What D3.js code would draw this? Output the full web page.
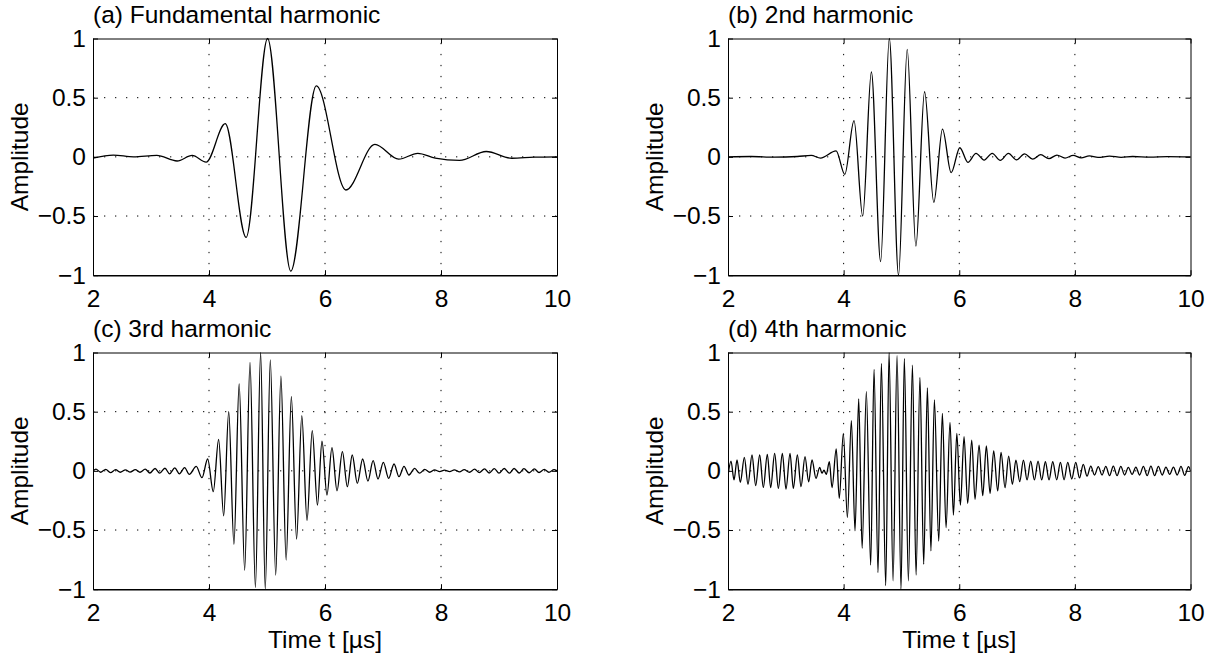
<!DOCTYPE html>
<html>
<head>
<meta charset="utf-8">
<script src="https://cdn.jsdelivr.net/npm/d3@7"></script>
<style>
  html, body { margin: 0; padding: 0; background: #fff; }
  svg text { font-family: "Liberation Sans", Arial, Helvetica, sans-serif; fill: #000; }
</style>
</head>
<body>
<svg id="fig" width="1208" height="659"></svg>
<script>
// Axis ticks and labels
const timeTicks = [2, 4, 6, 8, 10];
const timeLabels = ["2", "4", "6", "8", "10"];
const ampTicks = [-1, -0.5, 0, 0.5, 1];
const ampLabels = ["\u22121", "\u22120.5", "0", "0.5", "1"];
const panelTitles = ["(a) Fundamental harmonic", "(b) 2nd harmonic", "(c) 3rd harmonic", "(d) 4th harmonic"];
const xLabelText = "Time t [\u00b5s]";
const yLabelText = "Amplitude";

// Fundamental harmonic: turning points of the waveform (time in µs, normalised amplitude)
const fundT = [2.0, 2.35, 2.7, 3.1, 3.45, 3.71, 3.95, 4.28, 4.64, 5.01, 5.41, 5.85, 6.36, 6.86, 7.27, 7.6, 7.9, 8.32, 8.78, 9.22, 9.6, 10.0];
const fundA = [-0.01, 0.015, 0.0, 0.012, -0.035, 0.012, -0.045, 0.28, -0.68, 1.0, -0.965, 0.60, -0.28, 0.105, -0.02, 0.03, -0.01, -0.03, 0.045, -0.012, -0.003, 0.0];

// 2nd harmonic
const h2T = [2.0, 2.4, 2.8, 3.2, 3.44, 3.6, 3.87, 4.02, 4.18, 4.33, 4.48, 4.64, 4.79, 4.95, 5.10, 5.25, 5.40, 5.56, 5.71, 5.86,
             6.01, 6.15, 6.29, 6.43, 6.57, 6.71, 6.85, 6.99, 7.13, 7.27, 7.41, 7.55, 7.69, 7.83, 7.97, 8.11, 8.25, 8.4, 8.6, 8.8,
             9.0, 9.3, 9.6, 10.0];
const h2A = [0.0, 0.003, -0.002, 0.003, 0.012, -0.01, 0.05, -0.148, 0.306, -0.50, 0.717, -0.885, 1.0, -1.0, 0.908, -0.754, 0.55, -0.385, 0.235, -0.134,
             0.077, -0.046, 0.03, -0.027, 0.03, -0.03, 0.03, -0.025, 0.025, -0.02, 0.018, -0.015, 0.015, -0.01, 0.012, -0.008, 0.008, -0.005, 0.006, -0.004,
             0.003, -0.003, 0.002, 0.0];

// 3rd harmonic
const h3T = [2.0, 2.05, 2.13, 2.22, 2.30, 2.39, 2.47, 2.56, 2.64, 2.73, 2.81, 2.90, 2.98, 3.07, 3.15, 3.24, 3.32, 3.41, 3.49, 3.58,
             3.66, 3.78, 3.879, 3.977, 4.074, 4.166, 4.253, 4.34, 4.43, 4.52, 4.615, 4.707, 4.80, 4.89, 4.97, 5.057, 5.15, 5.24, 5.33, 5.42,
             5.51, 5.60, 5.69, 5.78, 5.87, 5.948, 6.034, 6.12, 6.207, 6.30, 6.385, 6.47, 6.557, 6.649, 6.74, 6.83, 6.914, 7.006, 7.098, 7.19,
             7.276, 7.362, 7.448, 7.546, 7.63, 7.72, 7.805, 7.89, 7.977, 8.06, 8.15, 8.23, 8.32, 8.40, 8.49, 8.58, 8.66, 8.75, 8.83, 8.92,
             9.0, 9.09, 9.18, 9.26, 9.35, 9.43, 9.52, 9.61, 9.69, 9.78, 9.86, 9.95, 10.0];
const h3A = [0.0, 0.015, -0.012, 0.012, -0.015, 0.01, -0.012, 0.008, -0.01, 0.01, -0.012, 0.015, -0.018, 0.02, -0.02, 0.022, -0.025, 0.025, -0.025, 0.028,
             -0.03, 0.037, -0.058, 0.10, -0.176, 0.266, -0.38, 0.50, -0.62, 0.734, -0.84, 0.917, -0.985, 1.0, -1.0, 0.937, -0.88, 0.80, -0.754, 0.627,
             -0.576, 0.466, -0.42, 0.34, -0.29, 0.25, -0.204, 0.196, -0.168, 0.162, -0.134, 0.134, -0.106, 0.10, -0.086, 0.086, -0.069, 0.072, -0.063, 0.058,
             -0.049, 0.038, -0.035, 0.021, -0.02, 0.012, -0.012, 0.008, -0.006, 0.006, -0.006, 0.008, -0.008, 0.01, -0.012, 0.014, -0.015, 0.017, -0.018, 0.018,
             -0.02, 0.02, -0.02, 0.02, -0.018, 0.018, -0.016, 0.016, -0.014, 0.012, -0.012, 0.01, 0.0];

// 4th harmonic
const h4T = [2.0, 2.052, 2.104, 2.156, 2.213, 2.283, 2.346, 2.415, 2.479, 2.548, 2.611, 2.68, 2.738, 2.807, 2.871, 2.94, 3.003, 3.073, 3.13, 3.2,
             3.263, 3.332, 3.395, 3.453, 3.522, 3.586, 3.625, 3.66, 3.70, 3.753, 3.80, 3.872, 3.925, 3.995, 4.065, 4.134, 4.197, 4.261, 4.32, 4.393,
             4.468, 4.526, 4.595, 4.653, 4.728, 4.786, 4.855, 4.924, 4.993, 5.05, 5.12, 5.19, 5.253, 5.32, 5.385, 5.449, 5.51, 5.57, 5.645, 5.708,
             5.772, 5.84, 5.899, 5.958, 6.02, 6.083, 6.146, 6.216, 6.273, 6.343, 6.406, 6.469, 6.533, 6.596, 6.665, 6.723, 6.792, 6.855, 6.919, 6.98,
             7.046, 7.11, 7.173, 7.236, 7.3, 7.363, 7.426, 7.49, 7.553, 7.617, 7.686, 7.75, 7.813, 7.877, 7.946, 8.015, 8.08, 8.145, 8.21, 8.275,
             8.34, 8.405, 8.47, 8.535, 8.60, 8.665, 8.73, 8.795, 8.86, 8.925, 8.99, 9.055, 9.12, 9.185, 9.25, 9.315, 9.38, 9.445, 9.51, 9.575,
             9.64, 9.705, 9.77, 9.835, 9.90, 9.965, 10.0];
const h4A = [-0.04, 0.083, -0.077, 0.092, -0.097, 0.114, -0.114, 0.134, -0.125, 0.134, -0.14, 0.14, -0.142, 0.148, -0.148, 0.148, -0.154, 0.148, -0.148, 0.134,
             -0.134, 0.12, -0.092, 0.092, -0.063, 0.03, -0.02, 0.005, -0.03, 0.077, -0.142, 0.185, -0.232, 0.317, -0.393, 0.425, -0.506, 0.607, -0.655, 0.669,
             -0.796, 0.858, -0.86, 0.908, -0.97, 1.0, -0.93, 0.973, -1.0, 0.95, -0.93, 0.894, -0.88, 0.79, -0.79, 0.70, -0.677, 0.60, -0.593, 0.486,
             -0.48, 0.41, -0.373, 0.317, -0.29, 0.29, -0.275, 0.26, -0.24, 0.218, -0.21, 0.21, -0.19, 0.168, -0.17, 0.156, -0.142, 0.125, -0.114, 0.09,
             -0.09, 0.09, -0.077, 0.083, -0.077, 0.083, -0.077, 0.077, -0.077, 0.077, -0.075, 0.072, -0.075, 0.072, -0.069, 0.072, -0.06, 0.055, -0.045, 0.04,
             -0.035, 0.035, -0.035, 0.038, -0.04, 0.04, -0.04, 0.038, -0.035, 0.03, -0.03, 0.032, -0.035, 0.038, -0.04, 0.04, -0.04, 0.038, -0.035, 0.032,
             -0.03, 0.032, -0.035, 0.038, -0.038, 0.035, 0.0];

const series = [[fundT, fundA], [h2T, h2A], [h3T, h3A], [h4T, h4A]];

// Subplot frames: two columns, two rows
const cols = [[93, 557], [728, 1190.5]];
const rows = [[38.5, 275.2], [352.5, 589.2]];
const fontSize = 24.5;

const svg = d3.select("#fig");
svg.append("rect").attr("width", 1208).attr("height", 659).attr("fill", "#fff");

series.forEach(([ts, as], i) => {
  const col = i % 2, row = Math.floor(i / 2);
  const [x0, x1] = cols[col];
  const [y0, y1] = rows[row];

  const x = d3.scaleLinear().domain([2, 10]).range([x0, x1]);
  const y = d3.scaleLinear().domain([-1, 1]).range([y1, y0]);

  const g = svg.append("g");

  // dotted grid at interior ticks
  const grid = g.append("g").attr("stroke", "#000").attr("stroke-width", 1)
    .attr("stroke-dasharray", "1.3 9.7").attr("fill", "none");
  timeTicks.filter(t => t > 2 && t < 10).forEach(t => {
    grid.append("line").attr("x1", x(t)).attr("x2", x(t)).attr("y1", y1).attr("y2", y0);
  });
  ampTicks.filter(a => a > -1 && a < 1).forEach(a => {
    grid.append("line").attr("x1", x0).attr("x2", x1).attr("y1", y(a)).attr("y2", y(a));
  });

  // waveform
  const clipId = "clip" + i;
  g.append("clipPath").attr("id", clipId).append("rect")
    .attr("x", x0).attr("y", y0 - 1).attr("width", x1 - x0).attr("height", y1 - y0 + 2);
  const pts = ts.map((t, k) => [t, as[k]]);
  const line = d3.line().x(d => x(d[0])).y(d => y(d[1])).curve(d3.curveMonotoneX);
  g.append("path").datum(pts)
    .attr("clip-path", `url(#${clipId})`)
    .attr("d", line)
    .attr("fill", "none").attr("stroke", "#000").attr("stroke-width", 1.3)
    .attr("stroke-linejoin", "round");

  // axes with inward ticks on all four sides
  const styleAxis = sel => {
    sel.selectAll("path.domain").attr("stroke", "#000");
    sel.selectAll(".tick line").attr("stroke", "#000");
    sel.selectAll("text").attr("font-size", fontSize).attr("font-family", null);
  };
  const bottom = g.append("g").attr("transform", `translate(0,${y1})`)
    .call(d3.axisBottom(x).tickValues(timeTicks).tickFormat((d, k) => timeLabels[k])
      .tickSizeInner(-5).tickSizeOuter(0).tickPadding(14));
  styleAxis(bottom);
  bottom.select("path.domain").attr("stroke-width", 1.6);
  const top = g.append("g").attr("transform", `translate(0,${y0})`)
    .call(d3.axisTop(x).tickValues(timeTicks).tickFormat("").tickSizeInner(-5).tickSizeOuter(0));
  styleAxis(top);
  const left = g.append("g").attr("transform", `translate(${x0},0)`)
    .call(d3.axisLeft(y).tickValues(ampTicks).tickFormat((d, k) => ampLabels[k])
      .tickSizeInner(-5).tickSizeOuter(0).tickPadding(7));
  styleAxis(left);
  const right = g.append("g").attr("transform", `translate(${x1},0)`)
    .call(d3.axisRight(y).tickValues(ampTicks).tickFormat("").tickSizeInner(-5).tickSizeOuter(0));
  styleAxis(right);

  // panel title
  g.append("text").attr("x", x0).attr("y", y0 - 16)
    .attr("font-size", fontSize).text(panelTitles[i]);

  // y label
  g.append("text")
    .attr("transform", `translate(${x0 - 65},${(y0 + y1) / 2}) rotate(-90)`)
    .attr("text-anchor", "middle").attr("font-size", fontSize).text(yLabelText);

  // x label on the bottom row only
  if (row === 1) {
    g.append("text").attr("x", (x0 + x1) / 2).attr("y", y1 + 59)
      .attr("text-anchor", "middle").attr("font-size", fontSize).text(xLabelText);
  }
});
</script>
</body>
</html>
